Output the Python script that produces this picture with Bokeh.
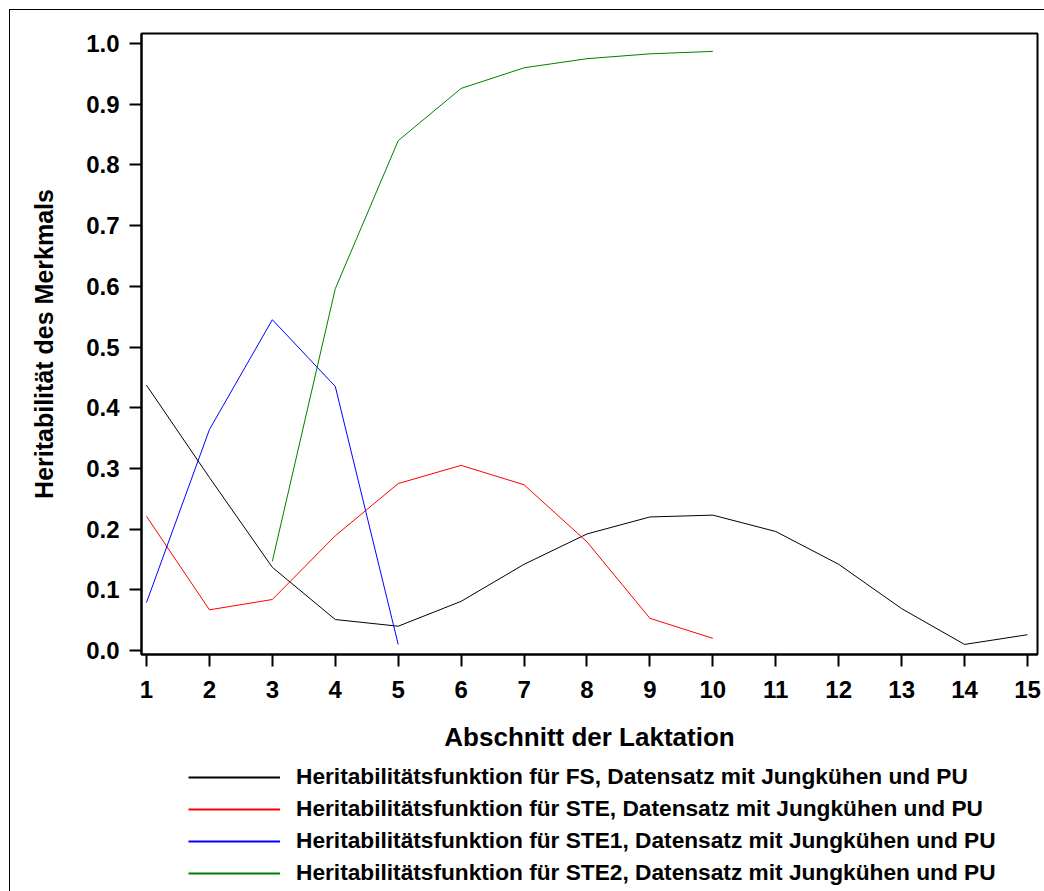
from bokeh.plotting import figure
from bokeh.layouts import column
from bokeh.models import Range1d, FixedTicker, PrintfTickFormatter, Legend, LegendItem
from bokeh.embed import file_html
from bokeh.resources import INLINE

# Data
abschnitt = list(range(1, 16))
fs = [0.437, 0.285, 0.137, 0.051, 0.040, 0.081, 0.142, 0.192, 0.220, 0.223,
      0.196, 0.142, 0.069, 0.010, 0.026]
ste_x = list(range(1, 11))
ste = [0.221, 0.067, 0.084, 0.189, 0.275, 0.305, 0.273, 0.179, 0.053, 0.020]
ste1_x = [1, 2, 3, 4, 5]
ste1 = [0.079, 0.364, 0.545, 0.435, 0.010]
ste2_x = [3, 4, 5, 6, 7, 8, 9, 10]
ste2 = [0.147, 0.596, 0.840, 0.926, 0.960, 0.975, 0.983, 0.987]

labels = [
    "Heritabilitätsfunktion für FS, Datensatz mit Jungkühen und PU",
    "Heritabilitätsfunktion für STE, Datensatz mit Jungkühen und PU",
    "Heritabilitätsfunktion für STE1, Datensatz mit Jungkühen und PU",
    "Heritabilitätsfunktion für STE2, Datensatz mit Jungkühen und PU",
]
colors = ["black", "red", "blue", "green"]
y_ticks = [0.0, 0.1, 0.2, 0.3, 0.4, 0.5, 0.6, 0.7, 0.8, 0.9, 1.0]
series = [(abschnitt, fs), (ste_x, ste), (ste1_x, ste1), (ste2_x, ste2)]

FONT = "Liberation Sans"

# ---- main chart ----
p = figure(width=1034, height=752, output_backend="svg", toolbar_location=None,
           x_range=Range1d(0.9206, 15.159), y_range=Range1d(-0.0066, 1.0165),
           min_border_left=131, min_border_top=23, min_border_right=7,
           min_border_bottom=108)

p.grid.visible = False
p.outline_line_color = "black"
p.outline_line_width = 2

for ax in (p.xaxis[0], p.yaxis[0]):
    ax.axis_line_width = 2
    ax.major_tick_line_width = 2
    ax.major_tick_in = 0
    ax.major_tick_out = 12
    ax.minor_tick_line_color = None
    ax.major_label_text_font = FONT
    ax.major_label_text_font_style = "bold"
    ax.major_label_text_font_size = "24px"
    ax.major_label_text_color = "black"
    ax.axis_label_text_font = FONT
    ax.axis_label_text_font_style = "bold"
    ax.axis_label_text_color = "black"

p.xaxis.ticker = FixedTicker(ticks=abschnitt)
p.xaxis.major_label_standoff = 14
p.xaxis.axis_label = "Abschnitt der Laktation"
p.xaxis.axis_label_standoff = 21
p.xaxis.axis_label_text_font_size = "26px"

p.yaxis.ticker = FixedTicker(ticks=y_ticks)
p.yaxis.formatter = PrintfTickFormatter(format="%.1f")
p.yaxis.major_label_standoff = 10
p.yaxis.axis_label = "Heritabilität des Merkmals"
p.yaxis.axis_label_standoff = 25
p.yaxis.axis_label_text_font_size = "25px"

for (xs, ys), c in zip(series, colors):
    p.line(xs, ys, line_color=c, line_width=1)

# ---- legend strip below (same series, drawn outside its visible range) ----
p2 = figure(width=1034, height=129, output_backend="svg", toolbar_location=None,
            x_range=Range1d(100, 101), y_range=Range1d(100, 101),
            min_border_left=0, min_border_right=0, min_border_top=0, min_border_bottom=0)
p2.axis.visible = False
p2.grid.visible = False
p2.outline_line_color = None

renderers = [p2.line(xs, ys, line_color=c, line_width=2) for (xs, ys), c in zip(series, colors)]

legend = Legend(items=[LegendItem(label=l, renderers=[r]) for l, r in zip(labels, renderers)],
                location=(47, 5), padding=0, margin=0, spacing=5,
                glyph_width=92, glyph_height=26, label_height=26, label_standoff=16,
                label_text_font=FONT, label_text_font_style="bold",
                label_text_font_size="22.7px", label_text_color="black",
                border_line_color=None, background_fill_alpha=0)
p2.add_layout(legend, "center")

layout = column(p, p2, spacing=0)
layout.styles = {"border-top": "1px solid black", "border-left": "1px solid black",
                 "margin-left": "9px", "margin-top": "9px"}

open("out.html", "w").write(file_html(layout, INLINE))
